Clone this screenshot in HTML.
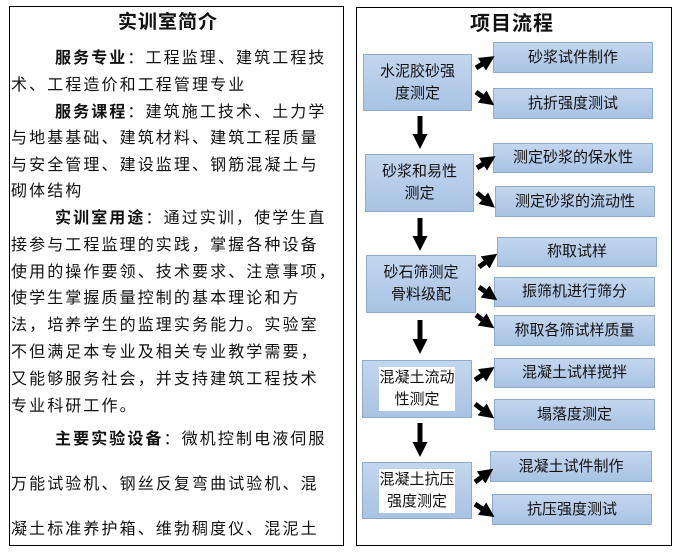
<!DOCTYPE html>
<html><head><meta charset="utf-8"><style>
body{margin:0;width:682px;height:555px;background:#fff;position:relative;overflow:hidden;font-family:"Liberation Sans","Noto Sans CJK SC",sans-serif;}
#lp{position:absolute;left:9px;top:6px;width:333px;height:538px;border:1.5px solid #000;}
.t{position:absolute;left:11px;white-space:nowrap;font-size:16px;letter-spacing:2.1px;color:#111;line-height:20px;}
b{font-weight:bold;}
#rp{position:absolute;left:356px;top:7px;width:314px;height:537px;border:1.5px solid #000;}
.bx{position:absolute;background:linear-gradient(#c3d6ee,#a9c3e4);border:1.5px solid #8eaad0;box-sizing:border-box;display:flex;align-items:center;justify-content:center;text-align:center;font-size:15px;color:#111;line-height:22px;}
.hl span{background:#fff;}
</style></head><body>
<div id="lp"></div>
<div class="t" style="left:118px;top:13px;font-size:19px;font-weight:bold;letter-spacing:1px">实训室简介</div>
<div class="t" style="top:49px;left:55px"><b>服务专业</b>：工程监理、建筑工程技</div>
<div class="t" style="top:76px;">术、工程造价和工程管理专业</div>
<div class="t" style="top:103px;left:55px"><b>服务课程</b>：建筑施工技术、土力学</div>
<div class="t" style="top:129px;">与地基基础、建筑材料、建筑工程质量</div>
<div class="t" style="top:156px;">与安全管理、建设监理、钢筋混凝土与</div>
<div class="t" style="top:182px;">砌体结构</div>
<div class="t" style="top:209px;left:55px"><b>实训室用途</b>：通过实训，使学生直</div>
<div class="t" style="top:236px;">接参与工程监理的实践，掌握各种设备</div>
<div class="t" style="top:263px;">使用的操作要领、技术要求、注意事项，</div>
<div class="t" style="top:289px;">使学生掌握质量控制的基本理论和方</div>
<div class="t" style="top:316px;">法，培养学生的监理实务能力。实验室</div>
<div class="t" style="top:343px;">不但满足本专业及相关专业教学需要，</div>
<div class="t" style="top:370px;">又能够服务社会，并支持建筑工程技术</div>
<div class="t" style="top:397px;">专业科研工作。</div>
<div class="t" style="top:430px;left:55px"><b>主要实验设备</b>：微机控制电液伺服</div>
<div class="t" style="top:475px;">万能试验机、钢丝反复弯曲试验机、混</div>
<div class="t" style="top:520px;">凝土标准养护箱、维勃稠度仪、混泥土</div>

<div id="rp"></div>
<div class="t" style="left:470px;top:14px;font-size:20px;font-weight:bold;letter-spacing:1px">项目流程</div>

<div class="bx" style="left:363px;top:54px;width:109px;height:57px">水泥胶砂强<br>度测定</div>
<div class="bx" style="left:365px;top:154px;width:109px;height:58px">砂浆和易性<br>测定</div>
<div class="bx" style="left:366px;top:255px;width:110px;height:58px">砂石筛测定<br>骨料级配</div>
<div class="bx hl" style="left:362px;top:360px;width:110px;height:58px"><span>混凝土流动<br>性测定</span></div>
<div class="bx hl" style="left:362px;top:462px;width:110px;height:57px"><span>混凝土抗压<br>强度测定</span></div>

<div class="bx" style="left:493px;top:42px;width:160px;height:31px">砂浆试件制作</div>
<div class="bx" style="left:493px;top:88px;width:160px;height:31px">抗折强度测试</div>
<div class="bx" style="left:493px;top:143px;width:160px;height:30px">测定砂浆的保水性</div>
<div class="bx" style="left:495px;top:186px;width:160px;height:31px">测定砂浆的流动性</div>
<div class="bx" style="left:497px;top:237px;width:160px;height:30px">称取试样</div>
<div class="bx" style="left:494px;top:277px;width:161px;height:30px">振筛机进行筛分</div>
<div class="bx" style="left:494px;top:315px;width:161px;height:31px">称取各筛试样质量</div>
<div class="bx" style="left:494px;top:358px;width:161px;height:30px">混凝土试样搅拌</div>
<div class="bx" style="left:494px;top:399px;width:161px;height:31px">塌落度测定</div>
<div class="bx" style="left:490px;top:451px;width:162px;height:31px">混凝土试件制作</div>
<div class="bx" style="left:492px;top:494px;width:160px;height:31px">抗压强度测试</div>

<svg width="682" height="555" style="position:absolute;left:0;top:0">
<defs><marker id="a" markerWidth="3" markerHeight="3" refX="1.2" refY="1.5" orient="auto" markerUnits="strokeWidth"><path d="M0,0L3,1.5L0,3z" fill="#000"/></marker></defs>
<g stroke="#000" stroke-width="5" marker-end="url(#a)">
<line x1="420" y1="116" x2="420" y2="140"/>
<line x1="420" y1="218" x2="420" y2="242"/>
<line x1="420" y1="320" x2="420" y2="345"/>
<line x1="420" y1="423" x2="420" y2="448"/>
<line x1="476" y1="68" x2="487" y2="61"/>
<line x1="476" y1="92" x2="487" y2="100"/>
<line x1="477" y1="168" x2="488" y2="161"/>
<line x1="477" y1="193" x2="488" y2="202"/>
<line x1="479" y1="267" x2="490" y2="259"/>
<line x1="479" y1="287" x2="490" y2="295"/>
<line x1="476" y1="315" x2="487" y2="323"/>
<line x1="475" y1="380" x2="487" y2="372"/>
<line x1="475" y1="404" x2="487" y2="413"/>
<line x1="475" y1="482" x2="486" y2="474"/>
<line x1="475" y1="504" x2="487" y2="512"/>
</g>
</svg>
</body></html>
